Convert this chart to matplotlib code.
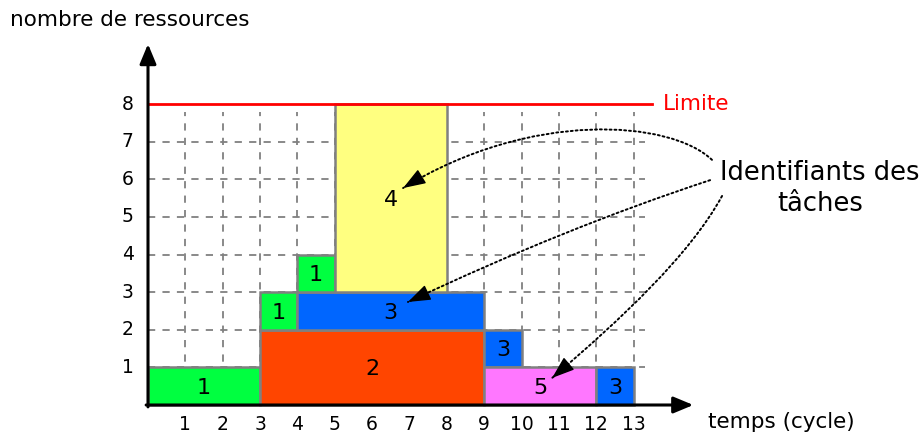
import matplotlib.pyplot as plt
import numpy as np
from matplotlib.patches import Rectangle, FancyArrowPatch
from matplotlib.path import Path

# tâches : identifiant, début, fin, ressource basse, ressource haute
task_ids = [1, 2, 1, 3, 1, 4, 3, 5, 3]
starts = [0, 3, 3, 4, 4, 5, 9, 9, 12]
ends = [3, 9, 4, 9, 5, 8, 10, 12, 13]
bottoms = [0, 0, 2, 2, 3, 3, 1, 0, 0]
tops = [1, 2, 3, 3, 4, 8, 2, 1, 1]
colors = {1: '#00ff40', 2: '#ff4500', 3: '#0066ff', 4: '#ffff80', 5: '#ff77ff'}

limit = 8
x_ticks = list(range(1, 14))
y_ticks = list(range(1, 9))

fig = plt.figure(figsize=(9.24, 4.33), dpi=100)
ax = fig.add_axes([0, 0, 1, 1])
ux, uy = 37.35, 37.6
ax.set_xlim(-148 / ux, (924 - 148) / ux)
ax.set_ylim(-28 / uy, 405 / uy)
ax.axis('off')

# grille pointillée
for x in x_ticks:
    ax.plot([x, x], [0, 7.8], ls=(0, (4, 4)), color='#808080', lw=1.3, zorder=1)
for y in range(1, 8):
    ax.plot([0, 13.3], [y, y], ls=(0, (4, 4)), color='#808080', lw=1.3, zorder=1)

# blocs des tâches
for tid, s, e, b, t in zip(task_ids, starts, ends, bottoms, tops):
    ax.add_patch(Rectangle((s, b), e - s, t - b, facecolor=colors[tid],
                           edgecolor='#808080', lw=1.8, zorder=2))
    ax.text((s + e) / 2, (b + t) / 2 - 0.05, str(tid), ha='center', va='center',
            fontsize=16, zorder=3)

# limite de ressources
ax.plot([0, 13.5], [limit, limit], color='red', lw=2, zorder=3)
ax.text(13.79, limit, 'Limite', color='red', fontsize=15.5, va='center')

# axes avec flèches
axis_arrow = dict(arrowstyle='-|>,head_length=0.6,head_width=0.25', color='black',
                  lw=2.2, mutation_scale=20, shrinkA=0, shrinkB=0)
ax.annotate('', xy=(14.6, 0), xytext=(-0.05, 0), arrowprops=axis_arrow, zorder=4)
ax.annotate('', xy=(0, 9.6), xytext=(0, -0.05), arrowprops=axis_arrow, zorder=4)

for x in x_ticks:
    ax.text(x, -0.52, str(x), ha='center', va='center', fontsize=13.5)
for y in y_ticks:
    ax.text(-0.54, y, str(y), ha='center', va='center', fontsize=13.5)

ax.text(-3.69, 10.24, 'nombre de ressources', fontsize=15.5, va='center')
ax.text(14.99, -0.45, 'temps (cycle)', fontsize=15.5, va='center')

ax.text(17.99, 5.77, 'Identifiants des\ntâches', ha='center', va='center',
        fontsize=18.5, linespacing=1.25)


def curved_arrow(points):
    """Courbe de Bézier pointillée terminée par une tête pleine."""
    pts = np.array(points, dtype=float)
    codes = [Path.MOVETO] + [Path.CURVE4 if len(pts) == 4 else Path.CURVE3] * (len(pts) - 1)
    ax.add_patch(FancyArrowPatch(path=Path(pts, codes), arrowstyle='-',
                                 color='black', lw=1.4, ls=(0, (1, 1.5)), zorder=5))
    tip, prev = pts[-1], pts[-2]
    d = (tip - prev) / np.hypot(*(tip - prev))
    ax.annotate('', xy=tip, xytext=tip - 0.55 * d, zorder=5,
                arrowprops=dict(arrowstyle='-|>,head_length=0.7,head_width=0.25',
                                color='black', lw=1, mutation_scale=20,
                                shrinkA=0, shrinkB=0))


curved_arrow([(15.10, 6.52), (13.98, 7.58), (10.23, 7.85), (6.83, 5.77)])
curved_arrow([(15.05, 5.98), (11.16, 4.71), (6.96, 2.74)])
curved_arrow([(15.37, 5.56), (14.51, 3.99), (12.64, 2.26), (10.82, 0.72)])

fig.savefig('out.png', dpi=100)
